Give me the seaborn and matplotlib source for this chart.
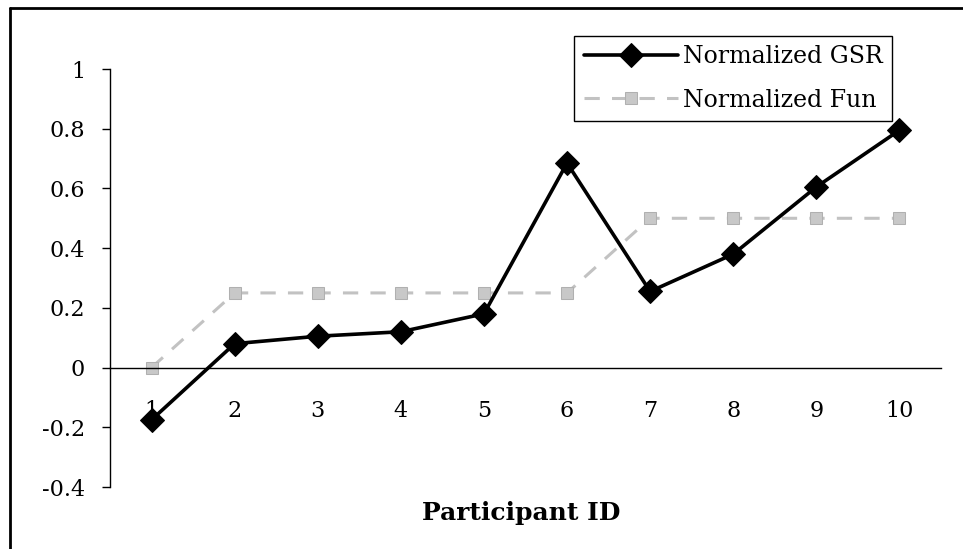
import matplotlib
matplotlib.use("Agg")
import matplotlib.pyplot as plt
import seaborn as sns
import pandas as pd
from matplotlib.lines import Line2D
from matplotlib.ticker import FixedLocator

participants = ["1", "2", "3", "4", "5", "6", "7", "8", "9", "10"]
gsr = [-0.175, 0.08, 0.105, 0.12, 0.18, 0.685, 0.255, 0.38, 0.605, 0.795]
fun = [0.0, 0.25, 0.25, 0.25, 0.25, 0.25, 0.5, 0.5, 0.5, 0.5]
y_ticks = [-0.4, -0.2, 0, 0.2, 0.4, 0.6, 0.8, 1]
y_tick_labels = ["-0.4", "-0.2", "0", "0.2", "0.4", "0.6", "0.8", "1"]

sns.set_style("white")
plt.rcParams["font.family"] = ["DejaVu Serif"]
plt.rcParams["text.color"] = "black"
plt.rcParams["xtick.color"] = "black"
plt.rcParams["ytick.color"] = "black"

fig = plt.figure(figsize=(9.63, 5.49), dpi=100)
ax = fig.add_axes([110/963, 1-487/549, (941-110)/963, (487-69)/549])

df_gsr = pd.DataFrame({"Participant": participants, "value": gsr})
df_fun = pd.DataFrame({"Participant": participants, "value": fun})

sns.lineplot(data=df_fun, x="Participant", y="value", ax=ax, color="#c2c2c2",
             linewidth=2.2, linestyle=(0, (5, 4)), marker="s", markersize=9,
             markeredgecolor="#b0b0b0", markerfacecolor="#c8c8c8",
             label="Normalized Fun", sort=False)
sns.lineplot(data=df_gsr, x="Participant", y="value", ax=ax, color="black",
             linewidth=2.6, marker="D", markersize=12, markeredgecolor="black",
             label="Normalized GSR", sort=False)

ax.set_xlim(-0.5, len(participants) - 0.5)
ax.set_ylim(-0.4, 1.0)
ax.set_yticks(y_ticks)
ax.set_yticklabels(y_tick_labels)

ax.spines["top"].set_visible(False)
ax.spines["right"].set_visible(False)
ax.spines["bottom"].set_position(("data", 0))
for s in ["left", "bottom"]:
    ax.spines[s].set_color("black")
    ax.spines[s].set_linewidth(1.0)

ax.set_xticks(range(len(participants)))
ax.set_xticklabels(participants)
ax.xaxis.set_minor_locator(FixedLocator([i - 0.5 for i in range(len(participants) + 1)]))
ax.tick_params(axis="x", which="major", length=0, pad=23, labelsize=16)
ax.tick_params(axis="x", which="minor", length=6, width=1, direction="out", color="black")
ax.tick_params(axis="y", length=6, width=1, direction="out", color="black", pad=12, labelsize=16, left=True)

ax.set_xlabel("")
ax.set_ylabel("")
fig.text(521/963, 1-513/549, "Participant ID", ha="center", va="center",
         fontsize=18, fontweight="bold", color="black")

ax.get_legend().remove()
h, l = ax.get_legend_handles_labels()
order = [l.index("Normalized GSR"), l.index("Normalized Fun")]
leg = fig.legend([h[i] for i in order], [l[i] for i in order],
                 loc="upper right", bbox_to_anchor=(892/963, 1-36/549),
                 fontsize=17, frameon=True, fancybox=False, framealpha=1,
                 edgecolor="black", handlelength=4.0, handletextpad=0.2,
                 borderpad=0.4, labelspacing=0.85, borderaxespad=0)
leg.get_frame().set_linewidth(1.0)

fig.add_artist(Line2D([10/963, 1], [1-8/549, 1-8/549], color="black", linewidth=2, transform=fig.transFigure))
fig.add_artist(Line2D([10/963, 10/963], [0, 1-8/549], color="black", linewidth=2, transform=fig.transFigure))

fig.savefig("out.png", dpi=100)
